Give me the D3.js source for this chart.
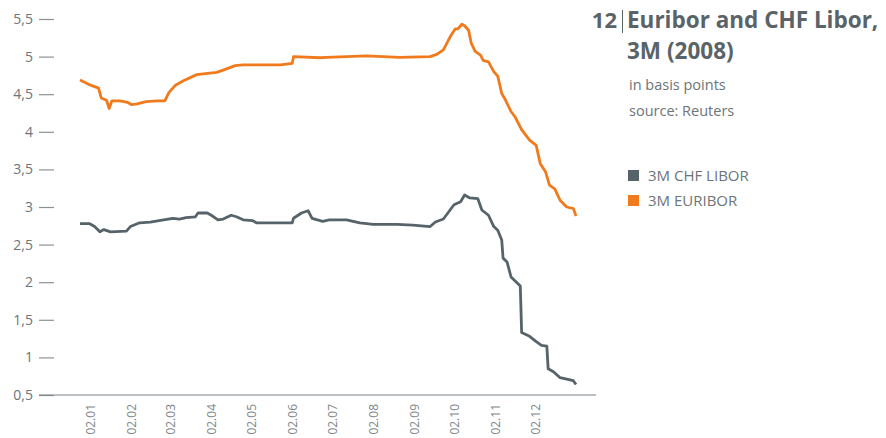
<!DOCTYPE html>
<html>
<head>
<meta charset="utf-8">
<script src="https://cdn.jsdelivr.net/npm/d3@7"></script>
<style>
  html, body { margin: 0; padding: 0; background: #fff; }
  svg text { font-family: "Open Sans", "Noto Sans", sans-serif; }
</style>
</head>
<body>
<div id="chart"></div>
<script>
// 3M CHF LIBOR
const liborDates = [
  "2007-12-25", "2008-01-01", "2008-01-05", "2008-01-09", "2008-01-12", "2008-01-17",
  "2008-01-29", "2008-02-01", "2008-02-08", "2008-02-16", "2008-02-26", "2008-03-04",
  "2008-03-09", "2008-03-14", "2008-03-21", "2008-03-23", "2008-03-30", "2008-04-02",
  "2008-04-07", "2008-04-11", "2008-04-17", "2008-04-21", "2008-04-26", "2008-05-03",
  "2008-05-06", "2008-06-02", "2008-06-03", "2008-06-09", "2008-06-14", "2008-06-17",
  "2008-06-25", "2008-06-30", "2008-07-13", "2008-07-23", "2008-08-02", "2008-08-20",
  "2008-09-01", "2008-09-14", "2008-09-18", "2008-09-24", "2008-10-02", "2008-10-07",
  "2008-10-10", "2008-10-14", "2008-10-20", "2008-10-23", "2008-10-28", "2008-11-01",
  "2008-11-04", "2008-11-07", "2008-11-08", "2008-11-11", "2008-11-14", "2008-11-21",
  "2008-11-22", "2008-11-28", "2008-12-03", "2008-12-07", "2008-12-11", "2008-12-12",
  "2008-12-16", "2008-12-21", "2008-12-31", "2009-01-02"
];
const liborValues = [
  2.78, 2.78, 2.74, 2.67, 2.70, 2.67,
  2.68, 2.74, 2.79, 2.80, 2.83, 2.85,
  2.84, 2.86, 2.87, 2.92, 2.92, 2.89,
  2.83, 2.84, 2.89, 2.87, 2.83, 2.82,
  2.79, 2.79, 2.85, 2.92, 2.95, 2.85,
  2.81, 2.83, 2.83, 2.79, 2.77, 2.77,
  2.76, 2.74, 2.80, 2.84, 3.03, 3.07,
  3.16, 3.12, 3.11, 2.96, 2.89, 2.74,
  2.69, 2.56, 2.32, 2.27, 2.07, 1.95,
  1.33, 1.28, 1.21, 1.16, 1.15, 0.85,
  0.81, 0.73, 0.69, 0.64
];

// 3M EURIBOR
const euriborDates = [
  "2007-12-25", "2008-01-02", "2008-01-08", "2008-01-10", "2008-01-14", "2008-01-16",
  "2008-01-18", "2008-01-24", "2008-01-30", "2008-02-02", "2008-02-06", "2008-02-13",
  "2008-02-21", "2008-02-27", "2008-03-01", "2008-03-06", "2008-03-12", "2008-03-22",
  "2008-04-06", "2008-04-11", "2008-04-20", "2008-04-26", "2008-05-24", "2008-06-02",
  "2008-06-03", "2008-06-23", "2008-06-28", "2008-07-28", "2008-08-22", "2008-09-14",
  "2008-09-19", "2008-09-24", "2008-09-29", "2008-10-03", "2008-10-05", "2008-10-08",
  "2008-10-10", "2008-10-13", "2008-10-15", "2008-10-18", "2008-10-22", "2008-10-24",
  "2008-10-28", "2008-11-01", "2008-11-04", "2008-11-07", "2008-11-09", "2008-11-14",
  "2008-11-17", "2008-11-22", "2008-11-28", "2008-12-03", "2008-12-06", "2008-12-10",
  "2008-12-13", "2008-12-17", "2008-12-21", "2008-12-26", "2008-12-31", "2009-01-02"
];
const euriborValues = [
  4.69, 4.62, 4.58, 4.45, 4.42, 4.31,
  4.41, 4.41, 4.39, 4.36, 4.37, 4.40,
  4.41, 4.41, 4.52, 4.62, 4.68, 4.76,
  4.79, 4.82, 4.88, 4.89, 4.89, 4.91,
  5.00, 4.985, 4.99, 5.01, 4.99, 5.00,
  5.03, 5.09, 5.26, 5.37, 5.37, 5.43,
  5.41, 5.35, 5.18, 5.07, 5.02, 4.95,
  4.93, 4.80, 4.74, 4.51, 4.45, 4.27,
  4.20, 4.03, 3.89, 3.82, 3.58, 3.47,
  3.29, 3.24, 3.09, 3.00, 2.98, 2.88
];

const yTicks = [0.5, 1, 1.5, 2, 2.5, 3, 3.5, 4, 4.5, 5, 5.5];
const xTickDates = [
  "2008-01-02", "2008-02-02", "2008-03-02", "2008-04-02", "2008-05-02", "2008-06-02",
  "2008-07-02", "2008-08-02", "2008-09-02", "2008-10-02", "2008-11-02", "2008-12-02"
];

const seriesNames = ["3M CHF LIBOR", "3M EURIBOR"];
const seriesColors = ["#56646a", "#f07a1c"];

const WIDTH = 886;
const HEIGHT = 438;
const PLOT_LEFT = 80;
const PLOT_RIGHT = 576;
const PLOT_TOP = 19;
const PLOT_BOTTOM = 395;

const parseDate = d3.timeParse("%Y-%m-%d");

const svg = d3.select("#chart")
  .append("svg")
  .attr("width", WIDTH)
  .attr("height", HEIGHT);

// scales
const xScale = d3.scaleTime()
  .domain([parseDate(liborDates[0]), parseDate(liborDates[liborDates.length - 1])])
  .range([PLOT_LEFT, PLOT_RIGHT]);

const yScale = d3.scaleLinear()
  .domain([yTicks[0], yTicks[yTicks.length - 1]])
  .range([PLOT_BOTTOM, PLOT_TOP]);

// y axis: short dashes with labels to the left
const yAxis = svg.append("g")
  .attr("transform", "translate(54,0)")
  .call(d3.axisLeft(yScale)
    .tickValues(yTicks)
    .tickSize(15)
    .tickPadding(6)
    .tickFormat(d => String(d).replace(".", ",")));
yAxis.select(".domain").remove();
yAxis.selectAll(".tick line").attr("stroke", "#8b9295").attr("stroke-width", 1.2);
yAxis.selectAll(".tick text")
  .attr("fill", "#6c7579")
  .style("font-size", "14px");

// baseline
svg.append("line")
  .attr("x1", 39)
  .attr("x2", 596)
  .attr("y1", yScale(yTicks[0]))
  .attr("y2", yScale(yTicks[0]))
  .attr("stroke", "#7a8285")
  .attr("stroke-width", 1.2);

// x axis labels, rotated
const xAxis = svg.append("g")
  .attr("transform", `translate(0,${PLOT_BOTTOM})`)
  .call(d3.axisBottom(xScale)
    .tickValues(xTickDates.map(parseDate))
    .tickSize(0)
    .tickFormat(d3.timeFormat("%d.%m")));
xAxis.select(".domain").remove();
xAxis.selectAll(".tick text")
  .attr("y", 0)
  .attr("x", -9)
  .attr("dy", "0.35em")
  .attr("transform", "rotate(-90)")
  .style("text-anchor", "end")
  .style("font-size", "12px")
  .attr("fill", "#7d868a");

// lines
const line = d3.line()
  .x(d => xScale(d.date))
  .y(d => yScale(d.value));

const series = [
  liborDates.map((d, i) => ({date: parseDate(d), value: liborValues[i]})),
  euriborDates.map((d, i) => ({date: parseDate(d), value: euriborValues[i]}))
];

svg.selectAll("path.series")
  .data(series)
  .join("path")
  .attr("class", "series")
  .attr("fill", "none")
  .attr("stroke", (d, i) => seriesColors[i])
  .attr("stroke-width", 2.8)
  .attr("stroke-linejoin", "round")
  .attr("d", line);

// title block
const title = svg.append("g").attr("fill", "#5a6468");
title.append("text")
  .attr("x", 617)
  .attr("y", 28)
  .attr("text-anchor", "end")
  .style("font-size", "22px")
  .style("font-weight", "bold")
  .text("12");
title.append("line")
  .attr("x1", 622.5).attr("x2", 622.5)
  .attr("y1", 10).attr("y2", 33)
  .attr("stroke", "#5a6468")
  .attr("stroke-width", 1);
title.append("text")
  .attr("x", 627)
  .attr("y", 28)
  .style("font-size", "22.5px")
  .style("font-weight", "bold")
  .text("Euribor and CHF Libor,");
title.append("text")
  .attr("x", 627)
  .attr("y", 59)
  .style("font-size", "22.5px")
  .style("font-weight", "bold")
  .text("3M (2008)");
title.append("text")
  .attr("x", 629)
  .attr("y", 90)
  .attr("fill", "#6c7579")
  .style("font-size", "14.5px")
  .text("in basis points");
title.append("text")
  .attr("x", 629)
  .attr("y", 116)
  .attr("fill", "#6c7579")
  .style("font-size", "14.5px")
  .text("source: Reuters");

// legend
const legend = svg.append("g")
  .selectAll("g")
  .data(seriesNames)
  .join("g")
  .attr("transform", (d, i) => `translate(628,${170 + i * 25})`);
legend.append("rect")
  .attr("width", 11)
  .attr("height", 11)
  .attr("fill", (d, i) => seriesColors[i]);
legend.append("text")
  .attr("x", 20)
  .attr("y", 10.5)
  .attr("fill", "#6c7579")
  .style("font-size", "15px")
  .text(d => d);
</script>
</body>
</html>
